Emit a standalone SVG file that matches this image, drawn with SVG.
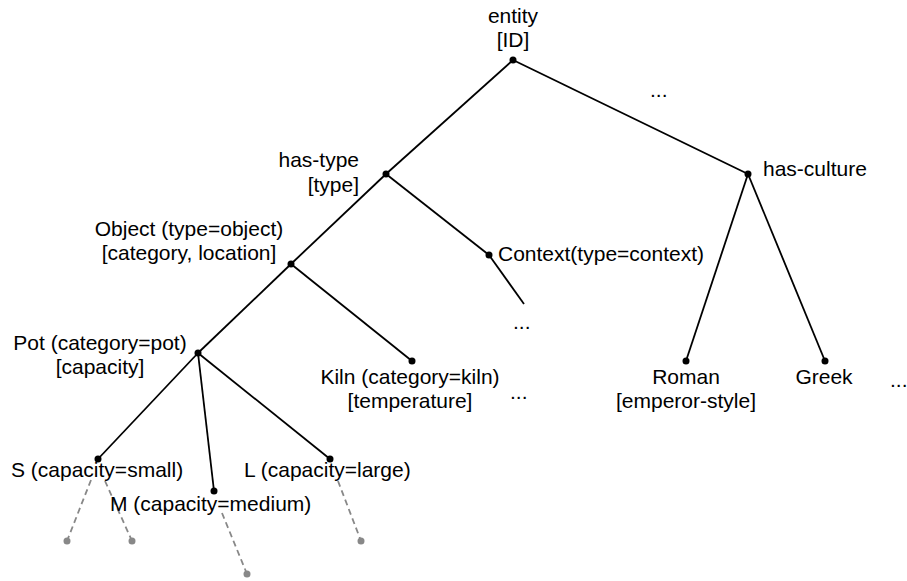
<svg xmlns="http://www.w3.org/2000/svg" width="907" height="581" viewBox="0 0 907 581">
<style>
text{font-family:"Liberation Sans",Arial,sans-serif;font-size:21px;fill:#000}
.c{text-anchor:middle}
.e{text-anchor:end}
.edge{stroke:#000;stroke-width:1.8;fill:none}
.dash{stroke:#888;stroke-width:1.8;stroke-dasharray:6,4;fill:none}
.dot{fill:#000}
.gdot{fill:#888}
</style>
<rect width="907" height="581" fill="#fff"/>
<g id="connectors">
<line class="edge" x1="513" y1="60" x2="386" y2="174"/>
<line class="edge" x1="513" y1="60" x2="748" y2="174"/>
<line class="edge" x1="386" y1="174" x2="291" y2="264"/>
<line class="edge" x1="386" y1="174" x2="489" y2="255"/>
<line class="edge" x1="489" y1="255" x2="524" y2="304"/>
<line class="edge" x1="291" y1="264" x2="198" y2="353"/>
<line class="edge" x1="291" y1="264" x2="412" y2="361"/>
<line class="edge" x1="198" y1="353" x2="98" y2="459"/>
<line class="edge" x1="198" y1="353" x2="214" y2="491"/>
<line class="edge" x1="198" y1="353" x2="330" y2="459"/>
<line class="edge" x1="748" y1="174" x2="686" y2="361"/>
<line class="edge" x1="748" y1="174" x2="825" y2="361"/>
<line class="dash" x1="91" y1="480" x2="67" y2="541"/>
<line class="dash" x1="105" y1="481" x2="132" y2="541"/>
<line class="dash" x1="222" y1="513" x2="247" y2="574"/>
<line class="dash" x1="338" y1="481" x2="361" y2="541"/>
<circle class="gdot" cx="67" cy="541" r="3.5"/>
<circle class="gdot" cx="132" cy="541" r="3.5"/>
<circle class="gdot" cx="247" cy="574" r="3.5"/>
<circle class="gdot" cx="361" cy="541" r="3.5"/>
</g>
<g id="entity"><circle class="dot" cx="513" cy="60" r="3.5"/><text class="c" x="513" y="23">entity</text><text class="c" x="513" y="47">[ID]</text></g>
<g id="more-top"><text x="650" y="97">...</text></g>
<g id="has-type"><circle class="dot" cx="386" cy="174" r="3.5"/><text class="e" x="359" y="167">has-type</text><text class="e" x="359" y="192">[type]</text></g>
<g id="has-culture"><circle class="dot" cx="748" cy="174" r="3.5"/><text x="763" y="176">has-culture</text></g>
<g id="object"><circle class="dot" cx="291" cy="264" r="3.5"/><text class="c" x="189" y="236">Object (type=object)</text><text class="c" x="189" y="260">[category, location]</text></g>
<g id="context"><circle class="dot" cx="489" cy="255" r="3.5"/><text x="498" y="261">Context(type=context)</text></g>
<g id="more-context"><text x="513" y="329">...</text></g>
<g id="pot"><circle class="dot" cx="198" cy="353" r="3.5"/><text class="c" x="100" y="350">Pot (category=pot)</text><text class="c" x="100" y="374">[capacity]</text></g>
<g id="kiln"><circle class="dot" cx="412" cy="361" r="3.5"/><text class="c" x="410" y="384">Kiln (category=kiln)</text><text class="c" x="410" y="408">[temperature]</text></g>
<g id="more-kiln"><text x="510" y="399">...</text></g>
<g id="roman"><circle class="dot" cx="686" cy="361" r="3.5"/><text class="c" x="686" y="384">Roman</text><text class="c" x="686" y="408">[emperor-style]</text></g>
<g id="greek"><circle class="dot" cx="825" cy="361" r="3.5"/><text class="c" x="824" y="384">Greek</text></g>
<g id="more-culture"><text x="890" y="387">...</text></g>
<g id="s"><circle class="dot" cx="98" cy="459" r="3.5"/><text x="11" y="477">S (capacity=small)</text></g>
<g id="m"><circle class="dot" cx="214" cy="491" r="3.5"/><text x="110" y="511">M (capacity=medium)</text></g>
<g id="l"><circle class="dot" cx="330" cy="459" r="3.5"/><text x="244" y="477">L (capacity=large)</text></g>
</svg>
